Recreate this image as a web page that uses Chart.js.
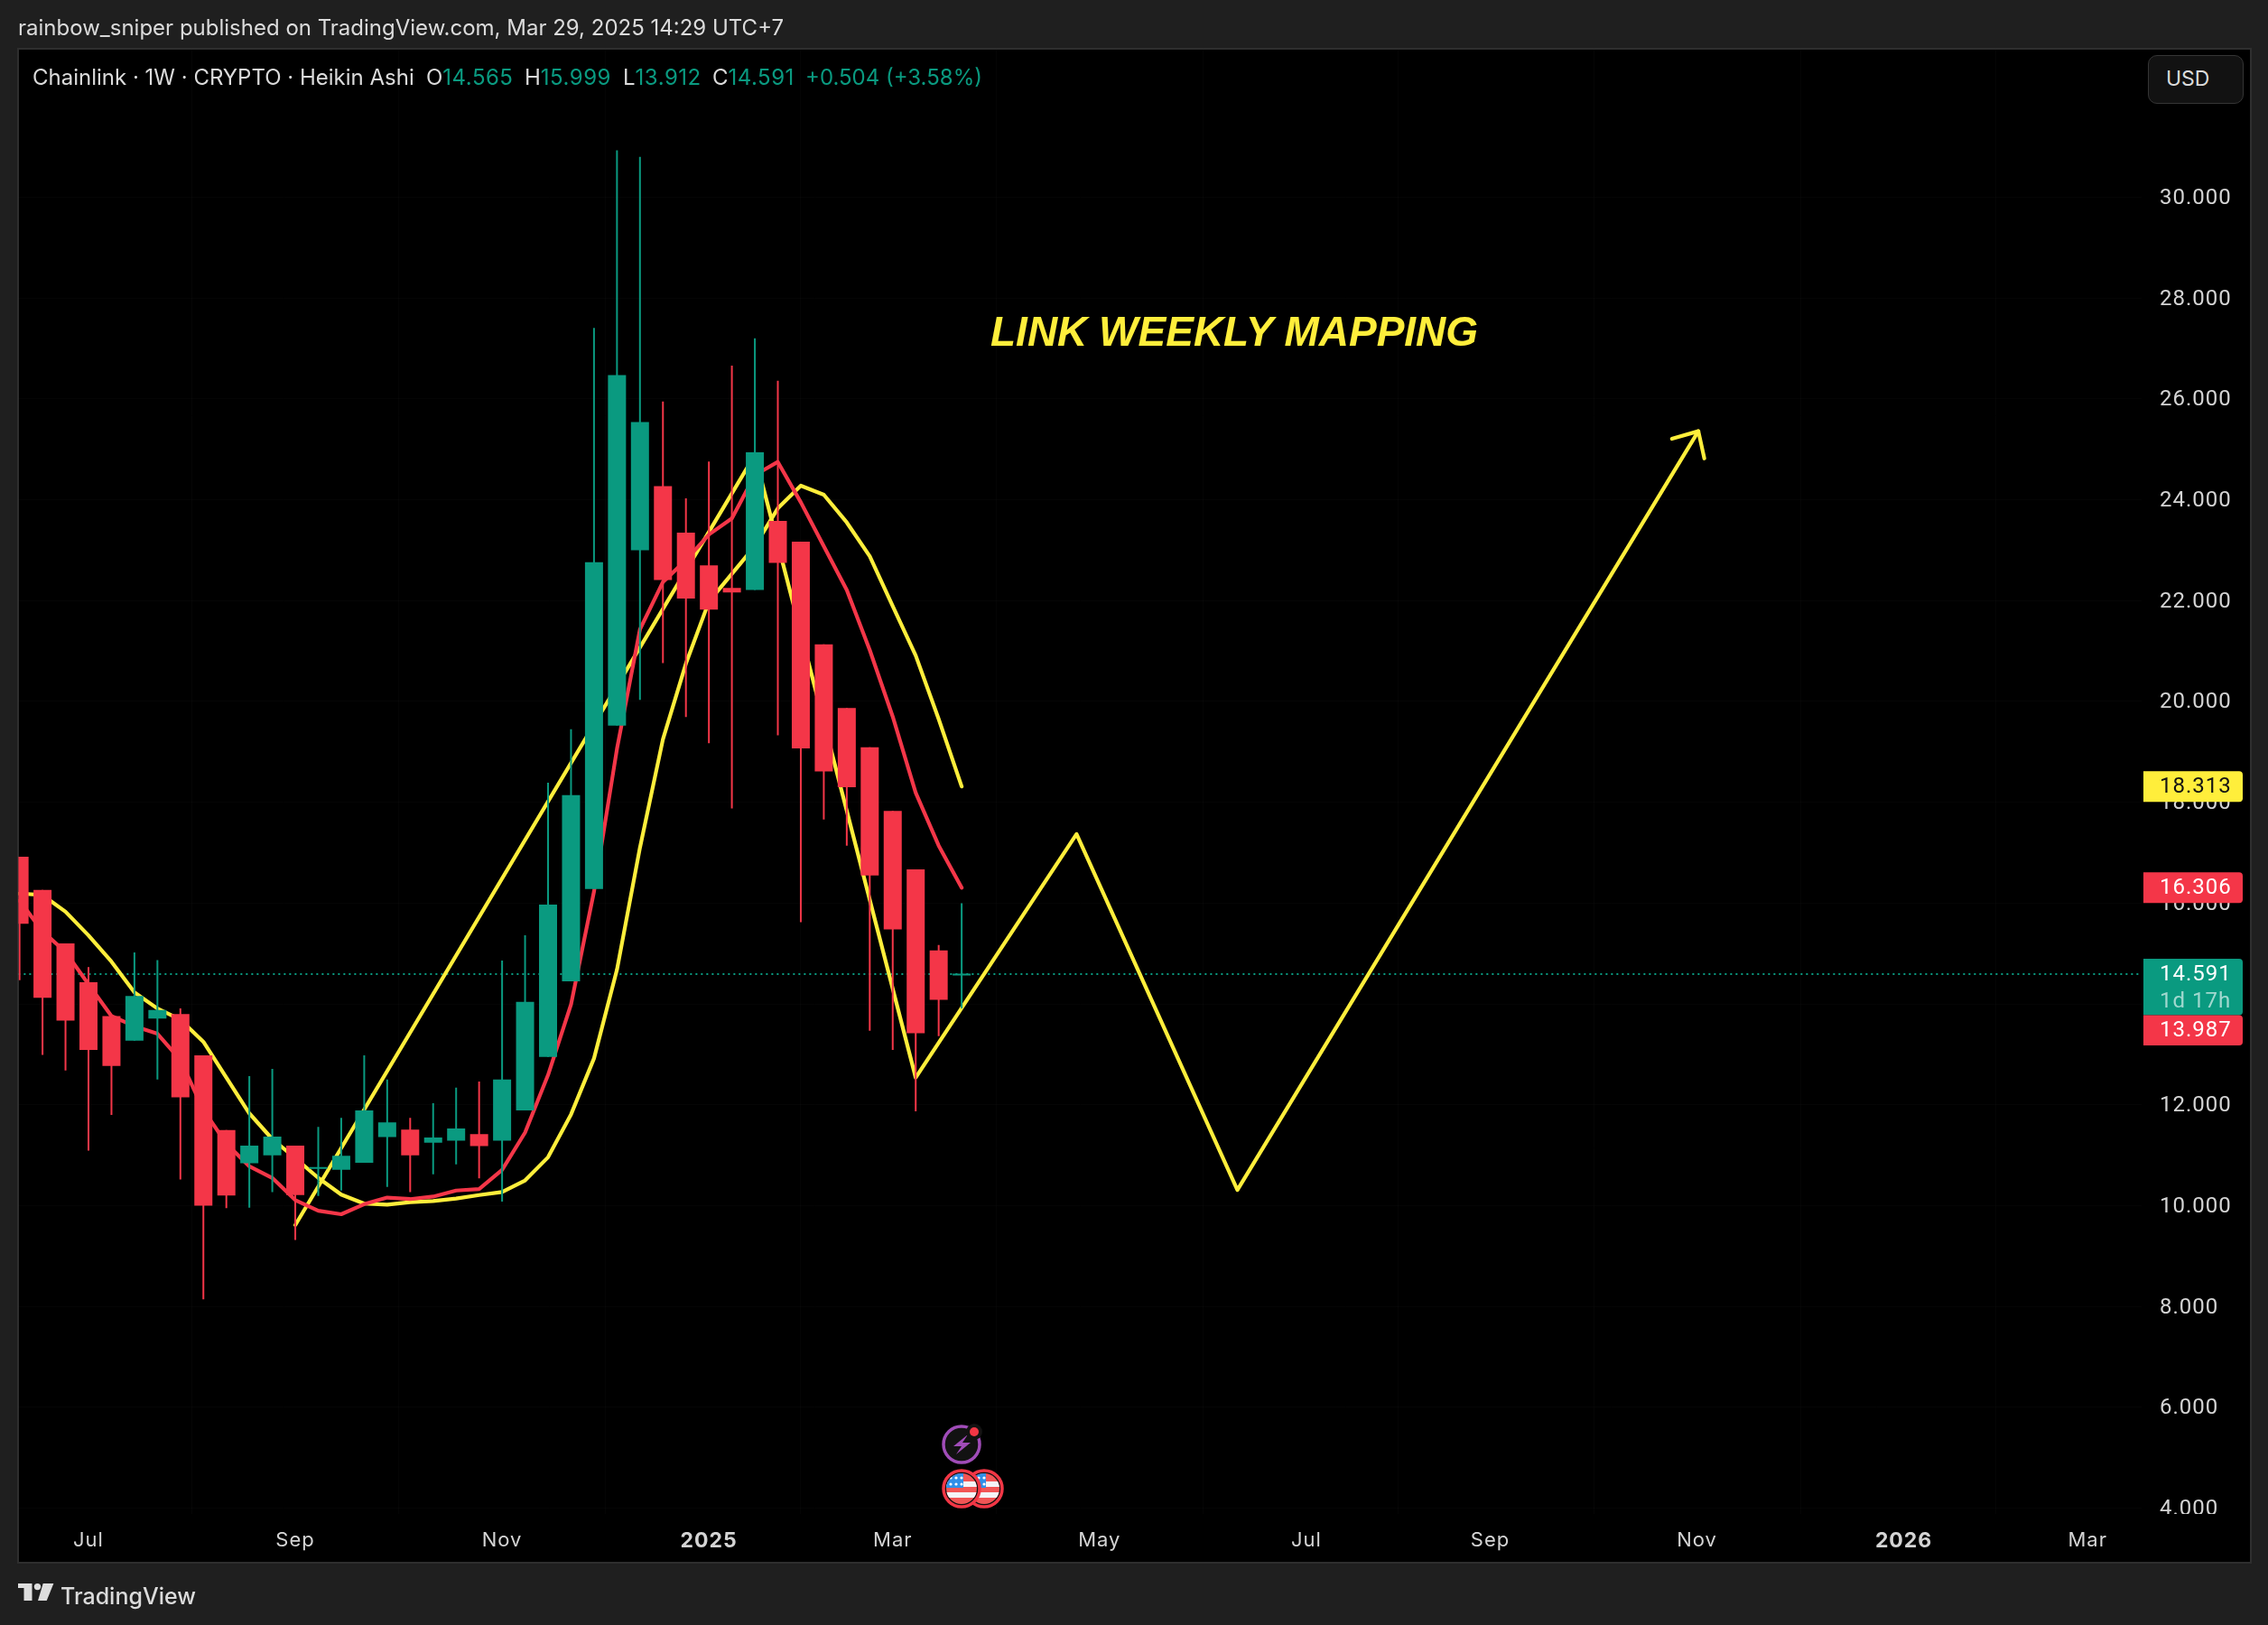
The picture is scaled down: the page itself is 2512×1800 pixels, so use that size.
<!DOCTYPE html>
<html>
<head>
<meta charset="utf-8">
<title>Chainlink 1W Heikin Ashi</title>
<script src="https://cdn.jsdelivr.net/npm/chart.js@4"></script>
<style>
html,body{margin:0;padding:0;background:#1f1f1f;width:2512px;height:1800px;overflow:hidden}
body{position:relative;font-family:Inter,"Noto Sans",sans-serif;color:#dbdbdb}
#pane{position:absolute;left:19px;top:52.5px;width:2471px;height:1675px;background:#000;border:2px solid #2e2e2e}
canvas{position:absolute;left:0;top:0}
.t{position:absolute;white-space:nowrap;font-size:24px;line-height:28px}
.g{color:#0a9a80}
.n{letter-spacing:.5px}
#usd{position:absolute;left:2379px;top:61px;width:104px;height:52px;border:1px solid #353535;border-radius:10px;background:#121212}
#note{position:absolute;left:1097px;top:338px;font:italic bold 46px/58px "Liberation Sans",Arial,sans-serif;color:#ffee3b;white-space:nowrap}
svg{position:absolute;left:0;top:0;pointer-events:none}
</style>
</head>
<body>
<div id="pane"></div>
<canvas id="c" width="2512" height="1800"></canvas>

<div class="t" style="left:20px;top:17px">rainbow_sniper published on TradingView.com, Mar 29, 2025 14:29 UTC+7</div>
<div class="t" style="left:36px;top:72px">Chainlink · 1W · CRYPTO · Heikin Ashi</div>
<div class="t" style="left:472px;top:72px">O<span class="g n">14.565</span></div>
<div class="t" style="left:581px;top:72px">H<span class="g n">15.999</span></div>
<div class="t" style="left:690px;top:72px">L<span class="g n">13.912</span></div>
<div class="t" style="left:789px;top:72px">C<span class="g n">14.591</span></div>
<div class="t g" style="left:892px;top:72px">+0.504 (+3.58%)</div>
<div id="usd"></div>
<div class="t" style="left:2399px;top:73px;font-size:23px">USD</div>
<div id="note">LINK WEEKLY MAPPING</div>
<div class="t" style="left:67px;top:1750.5px;font-size:25px;line-height:34px;font-weight:500">TradingView</div>

<svg width="2512" height="1800" viewBox="0 0 2512 1800">
  <defs>
    <clipPath id="f1"><circle cx="1065" cy="1649" r="17"/></clipPath>
    <clipPath id="f2"><circle cx="1090" cy="1649" r="17"/></clipPath>
    <g id="flag">
      <rect x="-17" y="-17" width="34" height="34" fill="#f25555"/>
      <rect x="-17" y="-8" width="34" height="6" fill="#f4f4f8"/>
      <rect x="-17" y="4" width="34" height="6" fill="#f4f4f8"/>
      <rect x="-17" y="-17" width="19" height="16" fill="#2f8fe8"/>
      <g fill="#fff"><circle cx="-12" cy="-12" r="1.6"/><circle cx="-6" cy="-12" r="1.6"/><circle cx="0" cy="-12" r="1.6"/><circle cx="-12" cy="-5" r="1.6"/><circle cx="-6" cy="-5" r="1.6"/><circle cx="0" cy="-5" r="1.6"/></g>
    </g>
  </defs>
  <circle cx="1065" cy="1600" r="20" fill="#121212" stroke="#a04cb8" stroke-width="3.5"/>
  <path d="M1072 1589 L1056 1602 L1065 1602 L1059 1611 L1075 1598 L1066 1598 Z" fill="#a04cb8"/>
  <circle cx="1079" cy="1586" r="9" fill="#121212"/>
  <circle cx="1079" cy="1586" r="5" fill="#f23645"/>
  <circle cx="1090" cy="1649" r="20" fill="#121212" stroke="#f23645" stroke-width="3.5"/>
  <g clip-path="url(#f2)"><use href="#flag" x="1090" y="1649"/></g>
  <circle cx="1065" cy="1649" r="20" fill="#121212" stroke="#f23645" stroke-width="3.5"/>
  <g clip-path="url(#f1)"><use href="#flag" x="1065" y="1649"/></g>
  <g fill="#dedede">
    <path d="M20 1754 H35.5 V1773 H26.5 V1759 H20 Z"/>
    <circle cx="41.5" cy="1757.6" r="3.7"/>
    <path d="M47.7 1754 H59.4 L51.7 1773 H42 Z"/>
  </g>
</svg>

<script>
// ---------- data ----------
const weekIndex = [-1,0,1,2,3,4,5,6,7,8,9,10,11,12,13,14,15,16,17,18,19,20,21,22,23,24,25,26,27,28,29,30,31,32,33,34,35,36,37,38,39,40];
const opens  = [16.92,16.26,15.20,14.43,13.76,13.27,13.71,13.80,12.98,11.50,10.84,11.00,11.19,10.73,10.71,10.85,11.36,11.51,11.25,11.29,11.42,11.29,11.89,12.95,14.45,16.28,19.52,23.00,24.27,23.35,22.70,22.25,22.21,23.58,23.17,21.13,19.87,19.09,17.83,16.67,15.06,14.565];
const highs  = [16.92,16.26,15.20,14.73,13.76,15.02,14.87,13.91,12.98,11.50,12.57,12.71,11.19,11.56,11.74,12.98,12.50,11.74,12.03,12.34,12.46,14.86,15.36,18.39,19.45,27.41,30.93,30.80,25.95,24.03,24.76,26.66,27.20,26.36,23.17,21.13,19.87,19.09,17.83,16.67,15.17,15.999];
const lows   = [14.47,12.99,12.68,11.09,11.80,13.27,12.50,10.52,8.14,9.95,9.96,10.27,9.32,10.19,10.30,10.85,10.37,10.27,10.62,10.82,10.54,10.08,11.89,12.95,14.45,16.28,19.52,20.03,20.76,19.69,19.17,17.88,22.21,19.33,15.62,17.66,17.14,13.47,13.09,11.87,13.36,13.912];
const closes = [15.59,14.12,13.67,13.09,12.77,14.16,13.88,12.15,10.00,10.20,11.19,11.37,10.21,10.76,10.99,11.89,11.65,11.00,11.35,11.53,11.18,12.50,14.04,15.97,18.14,22.76,26.47,25.54,22.41,22.04,21.82,22.16,24.94,22.75,19.07,18.61,18.30,16.55,15.48,13.42,14.08,14.591];
const maYellow = [16.19,16.16,15.83,15.36,14.84,14.23,13.91,13.69,13.25,12.54,11.83,11.32,10.94,10.55,10.22,10.04,10.02,10.07,10.09,10.14,10.21,10.27,10.50,10.96,11.81,12.92,14.68,17.10,19.25,20.75,21.98,22.53,23.08,23.83,24.28,24.10,23.55,22.88,21.89,20.91,19.65,18.313];
const maRed    = [16.05,15.44,15.03,14.39,13.76,13.56,13.41,12.89,11.90,11.23,10.78,10.55,10.11,9.90,9.83,10.03,10.16,10.13,10.18,10.30,10.33,10.71,11.45,12.59,13.99,16.23,19.06,21.43,22.37,22.80,23.31,23.63,24.49,24.75,23.95,23.08,22.21,21.02,19.70,18.19,17.14,16.306];
const forecastWeeks  = [11,31,38,45,52,72.06];
const forecastPrices = [9.615,24.89,12.54,17.37,10.31,25.36];
const arrowWeeks  = [70.91,72.06,72.32];
const arrowPrices = [25.21,25.36,24.82];
const lastPrice = 14.591;
const priceTicks = [4,6,8,10,12,14,16,18,20,22,24,26,28,30];
const timeTickWeeks  = [2,11,20,29,37,46,55,63,72,81,89];
const timeTickLabels = ['Jul','Sep','Nov','2025','Mar','May','Jul','Sep','Nov','2026','Mar'];
const tagValues = [18.313,16.306,14.591,13.987];
const tagLabels = ['18.313','16.306','14.591','13.987'];
const tagCountdown = '1d 17h';

// ---------- styling ----------
const GREEN='#0a9a80', RED='#f43648', YELLOW='#ffee3b', TICK='#d4d4d4';
const NUMFONT='Roboto';
const pts=(xs,ys)=>xs.map((x,i)=>({x,y:ys[i]}));
const candleColors=weekIndex.map((_,i)=>closes[i]>=opens[i]?GREEN:RED);
const lineBase={type:'line',pointRadius:0,tension:0,borderCapStyle:'round',borderJoinStyle:'round',fill:false};

const overlay={
  id:'overlay',
  beforeDraw(chart){
    chart.ctx.letterSpacing='1px';
    // price labels sit slightly lower than the canvas "middle" baseline puts them
    chart.scales.y.getLabelItems().forEach(item=>{item.options.translation[1]+=1.5;});
  },
  afterDraw(chart){
    const {ctx,scales:{y}}=chart;
    ctx.save();
    // clip the lowest price label at the pane's time strip
    ctx.fillStyle='#000';
    ctx.fillRect(2373,1677,116,16);
    const L=2374,W=110,H=34;
    const tag=(top,h,fill)=>{ctx.fillStyle=fill;ctx.beginPath();ctx.roundRect(L,top,W,h,[0,4,4,0]);ctx.fill();};
    const txt=(s,cy,col)=>{ctx.fillStyle=col;ctx.font='24px '+NUMFONT;ctx.textAlign='left';ctx.textBaseline='middle';ctx.fillText(s,2392,cy+1);};
    let py=y.getPixelForValue(tagValues[0]);
    tag(py-17,H,YELLOW);txt(tagLabels[0],py,'#131313');
    py=y.getPixelForValue(tagValues[1]);
    tag(py-17,H,RED);txt(tagLabels[1],py,'#fff');
    py=y.getPixelForValue(tagValues[2]);
    tag(py-17,62.5,GREEN);txt(tagLabels[2],py,'#fff');txt(tagCountdown,py+29.5,'rgba(255,255,255,.62)');
    // pushed below the countdown tag, as the price scale does on collisions
    const red=py+45.5;
    tag(red,33.5,RED);txt(tagLabels[3],red+16.7,'#fff');
    ctx.restore();
  }
};

new Chart(document.getElementById('c'),{
  type:'bar',
  plugins:[overlay],
  data:{datasets:[
    {...lineBase,label:'Last price',order:6,data:[{x:-1.05,y:lastPrice},{x:91.35,y:lastPrice}],borderColor:GREEN,borderWidth:2,borderDash:[2,4],borderCapStyle:'butt'},
    {...lineBase,label:'Forecast',order:5,data:pts(forecastWeeks,forecastPrices),borderColor:YELLOW,borderWidth:4.2},
    {...lineBase,label:'Arrow',order:5,data:pts(arrowWeeks,arrowPrices),borderColor:YELLOW,borderWidth:4.2},
    {...lineBase,label:'MA yellow',order:4,data:pts(weekIndex,maYellow),borderColor:YELLOW,borderWidth:4.2},
    {...lineBase,label:'MA red',order:3,data:pts(weekIndex,maRed),borderColor:RED,borderWidth:4.2},
    {type:'bar',label:'Wicks',order:2,grouped:false,barThickness:2,borderWidth:0,inflateAmount:0,
      data:weekIndex.map((x,i)=>({x,y:[lows[i],highs[i]]})),backgroundColor:candleColors},
    {type:'bar',label:'Bodies',order:1,grouped:false,barThickness:20,borderWidth:0,inflateAmount:0,minBarLength:2,
      data:weekIndex.map((x,i)=>({x,y:[opens[i],closes[i]]})),backgroundColor:candleColors}
  ]},
  options:{
    responsive:false,animation:false,devicePixelRatio:1,
    layout:{padding:{left:20.5,top:55,right:20,bottom:70}},
    plugins:{legend:{display:false},title:{display:false},tooltip:{enabled:false}},
    scales:{
      x:{type:'linear',min:-1.045,max:91.35,offset:false,
        grid:{color:'rgba(255,255,255,0.02)',lineWidth:1,drawTicks:false},border:{display:false},
        afterBuildTicks(s){s.ticks=timeTickWeeks.map(value=>({value}));},
        afterFit(s){s.height=53;},
        ticks:{autoSkip:false,maxRotation:0,padding:16,color:TICK,
          font(ctx){const l=timeTickLabels[ctx.index];return /^\d/.test(l||'')?{family:'Inter',size:23,weight:'700'}:{family:'Inter',size:22,weight:'400'};},
          callback(v,i){return timeTickLabels[i];}}
      },
      y:{type:'linear',position:'right',min:3.885,max:32.927,
        grid:{color:'rgba(255,255,255,0.02)',lineWidth:1,drawTicks:false},border:{display:false},
        afterBuildTicks(s){s.ticks=priceTicks.map(value=>({value}));},
        afterFit(s){s.width=120;},
        ticks:{padding:20,color:TICK,font:{family:NUMFONT,size:24},callback(v){return Number(v).toFixed(3);}}
      }
    }
  }
});
</script>
</body>
</html>
